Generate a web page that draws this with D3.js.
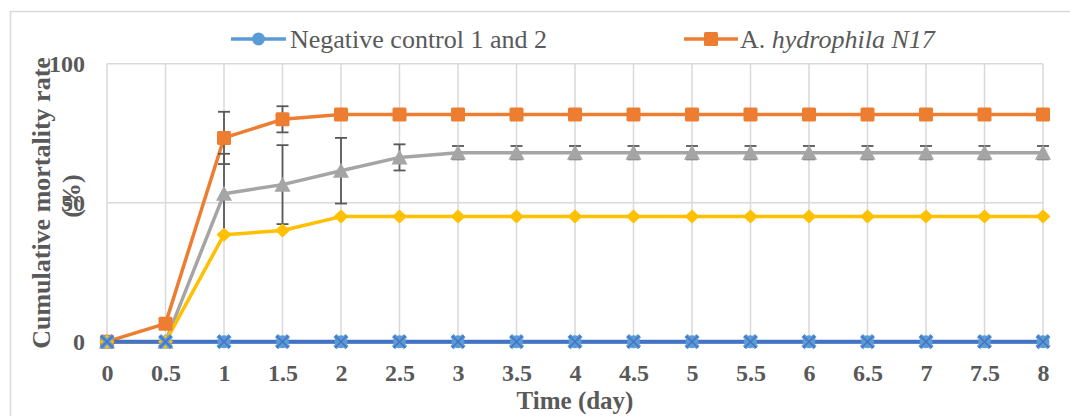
<!DOCTYPE html>
<html>
<head>
<meta charset="utf-8">
<script src="https://cdn.jsdelivr.net/npm/d3@7/dist/d3.min.js"></script>
<style>
    body { margin: 0; background: #fff; }
    svg { display: block; }
    text { font-family: "Liberation Serif", "Times New Roman", serif; }
</style>
</head>
<body>
<svg id="chart" width="1070" height="416"></svg>
<script>
// Data
var days = [0, 0.5, 1, 1.5, 2, 2.5, 3, 3.5, 4, 4.5, 5, 5.5, 6, 6.5, 7, 7.5, 8];
var dayLabels = ["0", "0.5", "1", "1.5", "2", "2.5", "3", "3.5", "4", "4.5", "5", "5.5", "6", "6.5", "7", "7.5", "8"];
var yTicks = [0, 50, 100];

var negControl = [0, 0, 0, 0, 0, 0, 0, 0, 0, 0, 0, 0, 0, 0, 0, 0, 0];
var n17 = [0, 6.5, 73.3, 80.0, 81.7, 81.7, 81.7, 81.7, 81.7, 81.7, 81.7, 81.7, 81.7, 81.7, 81.7, 81.7, 81.7];
var n17Err = [0, 0, 9.4, 4.7, 0, 0, 0, 0, 0, 0, 0, 0, 0, 0, 0, 0, 0];
var triangleGroup = [0, 0, 53.2, 56.5, 61.5, 66.3, 68.0, 68.0, 68.0, 68.0, 68.0, 68.0, 68.0, 68.0, 68.0, 68.0, 68.0];
var triangleErr = [0, 0, 14.4, 14.2, 11.8, 4.7, 2.4, 2.4, 2.4, 2.4, 2.4, 2.4, 2.4, 2.4, 2.4, 2.4, 2.4];
var diamondGroup = [0, 0, 38.5, 40.0, 45.0, 45.0, 45.0, 45.0, 45.0, 45.0, 45.0, 45.0, 45.0, 45.0, 45.0, 45.0, 45.0];
var crossGroup = [0, 0, 0, 0, 0, 0, 0, 0, 0, 0, 0, 0, 0, 0, 0, 0, 0];

var series = [
    { name: "Negative control 1 and 2", values: negControl, err: null, color: "#5B9BD5", marker: "circle" },
    { name: "A. hydrophila N17", values: n17, err: n17Err, color: "#ED7D31", marker: "square" },
    { name: "triangle", values: triangleGroup, err: triangleErr, color: "#A5A5A5", marker: "triangle" },
    { name: "diamond", values: diamondGroup, err: null, color: "#FFC000", marker: "diamond" },
    { name: "cross", values: crossGroup, err: null, color: "#4472C4", marker: "cross" }
];

var svg = d3.select("#chart");
var serif = "Liberation Serif, Times New Roman, serif";
var textColor = "#595959";
var gridColor = "#D9D9D9";

// outer chart border
svg.append("rect")
    .attr("x", 10.5).attr("y", 11.5)
    .attr("width", 1080).attr("height", 420)
    .attr("fill", "none")
    .attr("stroke", gridColor)
    .attr("stroke-width", 1.5);

var x = d3.scaleLinear().domain([0, 8]).range([107, 1043]);
var y = d3.scaleLinear().domain([0, 100]).range([341.7, 63.7]);

// gridlines
svg.append("g").selectAll("line")
    .data(days)
    .enter().append("line")
    .attr("x1", d => x(d)).attr("x2", d => x(d))
    .attr("y1", y(100)).attr("y2", y(0))
    .attr("stroke", gridColor).attr("stroke-width", 1.5);

svg.append("g").selectAll("line")
    .data(yTicks)
    .enter().append("line")
    .attr("x1", x(0)).attr("x2", x(8))
    .attr("y1", d => y(d)).attr("y2", d => y(d))
    .attr("stroke", gridColor).attr("stroke-width", 1.5);

// axes (labels only)
var xAxis = svg.append("g")
    .attr("transform", "translate(0," + y(0) + ")")
    .call(d3.axisBottom(x).tickValues(days).tickSize(0).tickPadding(22)
        .tickFormat((d, i) => dayLabels[i]));
var yAxis = svg.append("g")
    .attr("transform", "translate(" + x(0) + ",0)")
    .call(d3.axisLeft(y).tickValues(yTicks).tickSize(0).tickPadding(22));
[xAxis, yAxis].forEach(function (a) {
    a.attr("font-family", serif);
    a.select(".domain").remove();
    a.selectAll("text")
        .attr("fill", textColor)
        .style("font-size", "24px")
        .style("font-weight", "bold");
});

// lines
var line = d3.line()
    .x((d, i) => x(days[i]))
    .y(d => y(d));

series.forEach(function (s) {
    svg.append("path")
        .datum(s.values)
        .attr("d", line)
        .attr("fill", "none")
        .attr("stroke", s.color)
        .attr("stroke-width", s.marker === "cross" ? 4 : 3.5)
        .attr("stroke-linejoin", "round");
});

// error bars
series.forEach(function (s) {
    if (!s.err) return;
    var g = svg.append("g").attr("stroke", "#595959").attr("stroke-width", 1.8);
    s.values.forEach(function (v, i) {
        var e = s.err[i];
        if (!e) return;
        var cx = x(days[i]);
        g.append("line").attr("x1", cx).attr("x2", cx).attr("y1", y(v + e)).attr("y2", y(v - e));
        g.append("line").attr("x1", cx - 6).attr("x2", cx + 6).attr("y1", y(v + e)).attr("y2", y(v + e));
        g.append("line").attr("x1", cx - 6).attr("x2", cx + 6).attr("y1", y(v - e)).attr("y2", y(v - e));
    });
});

// markers
function drawMarker(g, type, color, cx, cy) {
    if (type === "circle") {
        g.append("circle").attr("cx", cx).attr("cy", cy).attr("r", 6.5).attr("fill", color);
    } else if (type === "square") {
        g.append("rect").attr("x", cx - 7).attr("y", cy - 7).attr("width", 14).attr("height", 14)
            .attr("rx", 1.5).attr("fill", color);
    } else if (type === "triangle") {
        g.append("path").attr("d", "M" + cx + "," + (cy - 8) + "L" + (cx + 8) + "," + (cy + 7) + "L" + (cx - 8) + "," + (cy + 7) + "Z")
            .attr("fill", color);
    } else if (type === "diamond") {
        g.append("path").attr("d", "M" + cx + "," + (cy - 7) + "L" + (cx + 7.5) + "," + cy + "L" + cx + "," + (cy + 7) + "L" + (cx - 7.5) + "," + cy + "Z")
            .attr("fill", color);
    } else if (type === "cross") {
        var d = "M" + (cx - 6) + "," + (cy - 6) + "L" + (cx + 6) + "," + (cy + 6) + "M" + (cx + 6) + "," + (cy - 6) + "L" + (cx - 6) + "," + (cy + 6);
        g.append("path").attr("d", d).attr("stroke", "#5B9BD5").attr("stroke-width", 4.5);
        g.append("path").attr("d", d).attr("stroke", color).attr("stroke-width", 1.5);
    }
}

series.forEach(function (s) {
    var g = svg.append("g");
    s.values.forEach(function (v, i) {
        drawMarker(g, s.marker, s.color, x(days[i]), y(v));
    });
});

// legend (two entries shown)
var legendY = 39;
var lg1 = svg.append("g");
lg1.append("line").attr("x1", 231).attr("x2", 286).attr("y1", legendY).attr("y2", legendY)
    .attr("stroke", series[0].color).attr("stroke-width", 3.5);
drawMarker(lg1, "circle", series[0].color, 258.5, legendY);
lg1.append("text").attr("x", 290).attr("y", legendY).attr("dy", "0.33em")
    .attr("font-family", serif)
    .attr("fill", textColor).style("font-size", "26px")
    .text(series[0].name);

var lg2 = svg.append("g");
lg2.append("line").attr("x1", 684).attr("x2", 738).attr("y1", legendY).attr("y2", legendY)
    .attr("stroke", series[1].color).attr("stroke-width", 3.5);
drawMarker(lg2, "square", series[1].color, 711, legendY);
var t2 = lg2.append("text").attr("x", 740).attr("y", legendY).attr("dy", "0.33em")
    .attr("font-family", serif)
    .attr("fill", textColor).style("font-size", "26px");
t2.append("tspan").text("A. ");
t2.append("tspan").style("font-style", "italic").text("hydrophila N17");

// axis titles
svg.append("text")
    .attr("x", 575).attr("y", 409)
    .attr("text-anchor", "middle")
    .attr("font-family", serif)
    .attr("fill", textColor)
    .style("font-size", "25px").style("font-weight", "bold")
    .text("Time (day)");

var yTitle = svg.append("text")
    .attr("transform", "translate(50,203) rotate(-90)")
    .attr("text-anchor", "middle")
    .attr("font-family", serif)
    .attr("fill", textColor)
    .style("font-size", "26px").style("font-weight", "bold");
yTitle.append("tspan").attr("x", 0).attr("y", 0).text("Cumulative mortality rate");
yTitle.append("tspan").attr("x", 7).attr("y", 30).text("(%)");
</script>
</body>
</html>
